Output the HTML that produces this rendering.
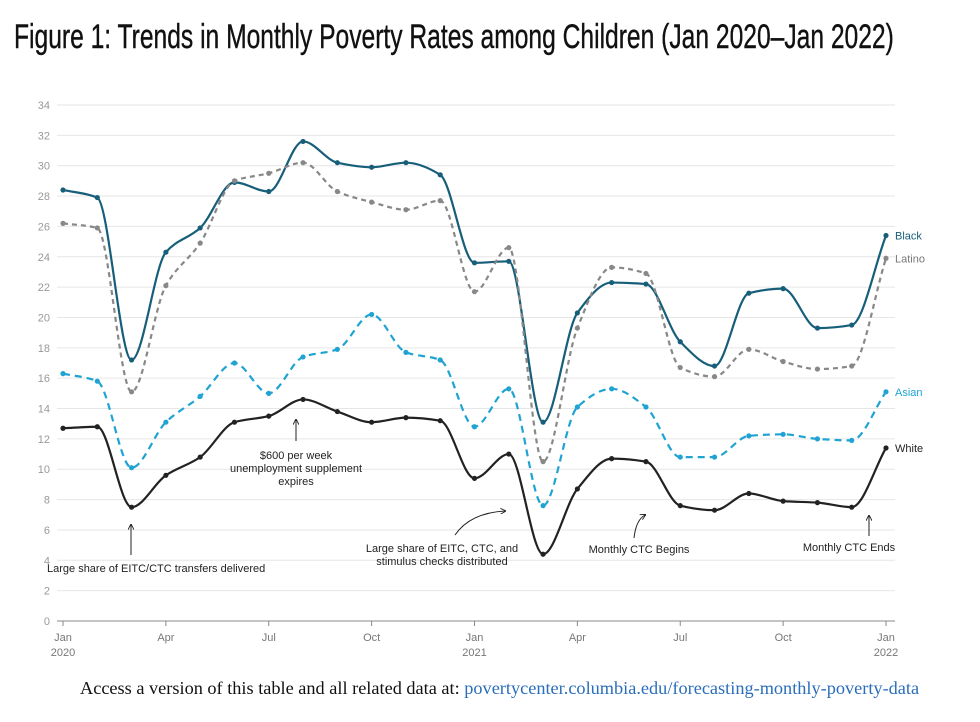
<!DOCTYPE html>
<html><head><meta charset="utf-8"><style>
body{margin:0;background:#fff;width:980px;height:722px;overflow:hidden;font-family:"Liberation Sans",sans-serif}
#title{position:absolute;left:14px;top:18px;font-size:34px;color:#111;white-space:nowrap;transform:scaleX(0.724);transform-origin:left top;letter-spacing:0px;-webkit-text-stroke:0.4px #111}
#foot{position:absolute;left:80px;top:678px;font-family:"Liberation Serif",serif;font-size:18.3px;color:#111;white-space:nowrap}
#foot a{color:#2a6ebb;text-decoration:none}
svg{position:absolute;left:0;top:0}
</style></head><body>
<div id="title">Figure 1: Trends in Monthly Poverty Rates among Children (Jan 2020–Jan 2022)</div>
<svg id="chart" width="980" height="722"></svg>
<div id="foot">Access a version of this table and all related data at: <a>povertycenter.columbia.edu/forecasting-monthly-poverty-data</a></div>
<script>
const yTicks=[0,2,4,6,8,10,12,14,16,18,20,22,24,26,28,30,32,34];
const xTickMonths=[0,3,6,9,12,15,18,21,24];
const xTickLabels=["Jan","Apr","Jul","Oct","Jan","Apr","Jul","Oct","Jan"];
const xTickYears=["2020","","","","2021","","","","2022"];
const black=[28.4,27.9,17.2,24.3,25.9,28.9,28.3,31.6,30.2,29.9,30.2,29.4,23.6,23.7,13.1,20.3,22.3,22.2,18.4,16.8,21.6,21.9,19.3,19.5,25.4];
const latino=[26.2,25.9,15.1,22.1,24.9,29.0,29.5,30.2,28.3,27.6,27.1,27.7,21.7,24.6,10.5,19.3,23.3,22.9,16.7,16.1,17.9,17.1,16.6,16.8,23.9];
const asian=[16.3,15.8,10.1,13.1,14.8,17.0,15.0,17.4,17.9,20.2,17.7,17.2,12.8,15.3,7.6,14.1,15.3,14.1,10.8,10.8,12.2,12.3,12.0,11.9,15.1];
const white=[12.7,12.8,7.5,9.6,10.8,13.1,13.5,14.6,13.8,13.1,13.4,13.2,9.4,11.0,4.4,8.7,10.7,10.5,7.6,7.3,8.4,7.9,7.8,7.5,11.4];
const seriesNames=["Black","Latino","Asian","White"];

const NS="http://www.w3.org/2000/svg";
const svg=document.getElementById('chart');
const X0=63,X1=886,Y0=621,Y1=105;
const x=m=>X0+(X1-X0)*m/24;
const y=v=>Y0-(Y0-Y1)*v/34;
function mk(t,a,p){const e=document.createElementNS(NS,t);for(const k in a)e.setAttribute(k,a[k]);(p||svg).appendChild(e);return e;}
function txt(s,a){const e=mk('text',a);e.textContent=s;return e;}

yTicks.forEach(v=>{
  const g=mk('line',{x1:57,x2:895,y1:y(v),y2:y(v),stroke:v===0?'#888':'#e6e6e6','stroke-width':1});
  
  
  const t=txt(String(v),{x:50,y:y(v)+4,'text-anchor':'end','font-size':11,fill:'#999'});
  
  
});
xTickMonths.forEach((m,i)=>{
  mk('line',{x1:x(m),x2:x(m),y1:Y0,y2:Y0+5,stroke:'#888'});
  const t=txt(xTickLabels[i],{x:x(m),y:641,'text-anchor':'middle','font-size':11,fill:'#777'});
  
  
  if(xTickYears[i]){const t2=txt(xTickYears[i],{x:x(m),y:656,'text-anchor':'middle','font-size':11,fill:'#777'});
  
  }
});

function monoPath(pts){
  const n=pts.length,dx=[],m=[],t=[];
  for(let i=0;i<n-1;i++){dx[i]=pts[i+1][0]-pts[i][0];m[i]=(pts[i+1][1]-pts[i][1])/dx[i];}
  t[0]=m[0];t[n-1]=m[n-2];
  for(let i=1;i<n-1;i++){t[i]=(m[i-1]*m[i]<=0)?0:(3*(dx[i-1]+dx[i]))/((2*dx[i]+dx[i-1])/m[i-1]+(dx[i]+2*dx[i-1])/m[i]);}
  let d='M'+pts[0][0]+','+pts[0][1];
  for(let i=0;i<n-1;i++){const h=dx[i]/3;
    d+=' C'+(pts[i][0]+h)+','+(pts[i][1]+t[i]*h)+' '+(pts[i+1][0]-h)+','+(pts[i+1][1]-t[i+1]*h)+' '+pts[i+1][0]+','+pts[i+1][1];}
  return d;
}
const cfg=[[black,'#175e7a',null,'#175e7a'],[latino,'#888','5,4','#777'],[asian,'#1fa3d3','7,5','#1fa3d3'],[white,'#222',null,'#222']];
cfg.forEach(([arr,col,dash,lc],si)=>{
  const pts=arr.map((v,i)=>[x(i),y(v)]);
  const p=mk('path',{d:monoPath(pts),fill:'none',stroke:col,'stroke-width':2.2});
  if(dash)p.setAttribute('stroke-dasharray',dash);
  
  
  pts.forEach((q,i)=>{const c=mk('circle',{cx:q[0],cy:q[1],r:2.6,fill:col});
    
    });
  const l=txt(seriesNames[si],{x:x(24)+9,y:y(arr[24])+4,'font-size':11,fill:lc});
  
  
});

mk('defs',{}).innerHTML='<marker id="ah" viewBox="0 0 10 10" refX="8" refY="5" markerWidth="6" markerHeight="6" orient="auto"><path d="M0,0 L10,5 L0,10" fill="none" stroke="#222" stroke-width="1.5"/></marker>';
function ann(lines,tx,ty,anchor,path,name){
  const a=mk('path',{d:path,fill:'none',stroke:'#222','stroke-width':1,'marker-end':'url(#ah)'});
  
  
  lines.forEach((s,i)=>{const t=txt(s,{x:tx,y:ty+i*13,'text-anchor':anchor,'font-size':11,fill:'#222'});
    
    });
}
ann(["Large share of EITC/CTC transfers delivered"],47,572,'start','M131,555 L131,525','annotation-eitc');
ann(["$600 per week","unemployment supplement","expires"],296,459,'middle','M296,441 L296,420','annotation-600');
ann(["Large share of EITC, CTC, and","stimulus checks distributed"],442,552,'middle','M455,535 Q470,513 505,511','annotation-stimulus');
ann(["Monthly CTC Begins"],639,553,'middle','M634,538 Q636,520 645,515','annotation-ctc-begins');
ann(["Monthly CTC Ends"],849,551,'middle','M869,536 L869,516','annotation-ctc-ends');
</script>
</body></html>
